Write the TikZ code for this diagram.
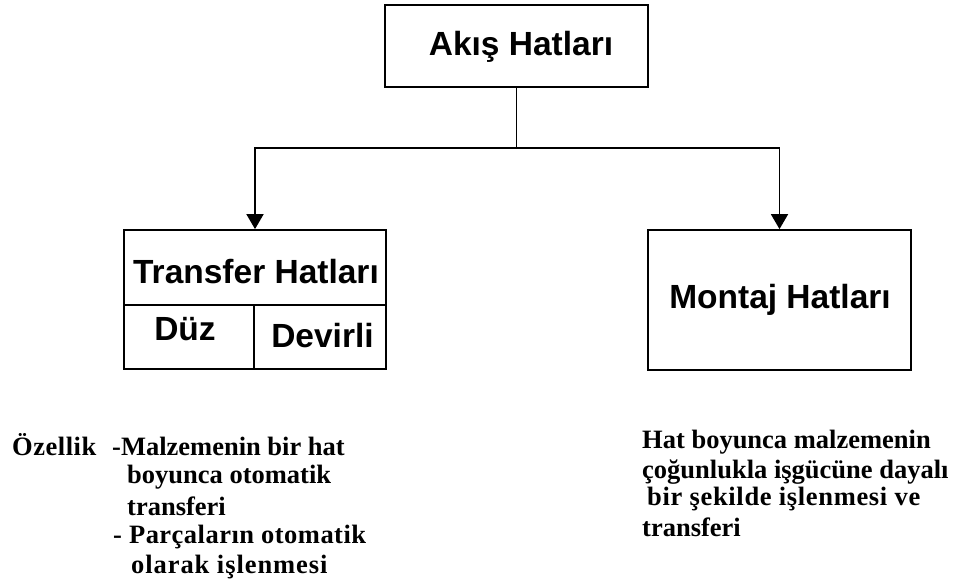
\documentclass[tikz,border=0pt]{standalone}
\usepackage{fontspec}
\setmainfont{Liberation Serif}
\newfontfamily\boxfont{Liberation Sans}
\usetikzlibrary{arrows.meta}
\newcommand{\spaced}[1]{\addfontfeature{LetterSpace=#1}}
\begin{document}
\begin{tikzpicture}[x=1pt,y=-1pt,
  boxline/.style={draw=black,line width=1.8pt},
  title/.style={inner sep=0pt,anchor=base,font=\boxfont\bfseries\fontsize{33.5}{40}\selectfont},
  note/.style={inner sep=0pt,anchor=base west,font=\bfseries\fontsize{26.5}{30}\selectfont},
  link/.style={draw=black,line width=1.8pt},
  arrowlink/.style={link,-{Triangle[width=17pt,length=15pt]}}]
  \useasboundingbox (0,0) rectangle (974,582);

  % boxes
  \node[boxline,minimum width=263pt,minimum height=82pt,inner sep=0pt] (akis) at (516.5,46) {};
  \node[boxline,minimum width=262pt,minimum height=139pt,inner sep=0pt] (transfer) at (255,299.5) {};
  \node[boxline,minimum width=263pt,minimum height=140pt,inner sep=0pt] (montaj) at (779.5,300) {};

  % compartments of the transfer box
  \coordinate (split) at (124,305);
  \coordinate (splitmid) at (254,305);
  \draw[link] (split) -- (split -| transfer.east);
  \draw[link] (splitmid) -- (splitmid |- transfer.south);

  % box titles
  \node[title] (akistext) at (521,55) {Akış Hatları};
  \node[title] (transfertext) at (256,283) {Transfer Hatları};
  \node[title] (duz) at (185,340) {Düz};
  \node[title] (devirli) at (322.5,347) {Devirli};
  \node[title] (montajtext) at (780,308) {Montaj Hatları};

  % tree connectors
  \coordinate (bus) at (516.5,148);
  \draw[link] (akis.south) -- (bus);
  \draw[arrowlink] (bus) -| (transfer.north);
  \draw[arrowlink] (bus) -| (montaj.north);

  % notes below the transfer box
  \node[note] (ozellik) at (12,455) {\spaced{2}Özellik};
  \node[note] (l1) at (112,455) {-Malzemenin bir hat};
  \node[note] (l2) at (127,483) {boyunca otomatik};
  \node[note] (l3) at (127,515) {transferi};
  \node[note] (l4) at (113,543) {\spaced{1.8}- Parçaların otomatik};
  \node[note] (l5) at (131,573) {\spaced{3.5}olarak işlenmesi};

  % notes below the assembly box
  \node[note] (r1) at (642,448) {Hat boyunca malzemenin};
  \node[note] (r2) at (642,478) {çoğunlukla işgücüne dayalı};
  \node[note] (r3) at (647,505) {\spaced{2.5}bir şekilde işlenmesi ve};
  \node[note] (r4) at (642,536) {transferi};
\end{tikzpicture}
\end{document}
